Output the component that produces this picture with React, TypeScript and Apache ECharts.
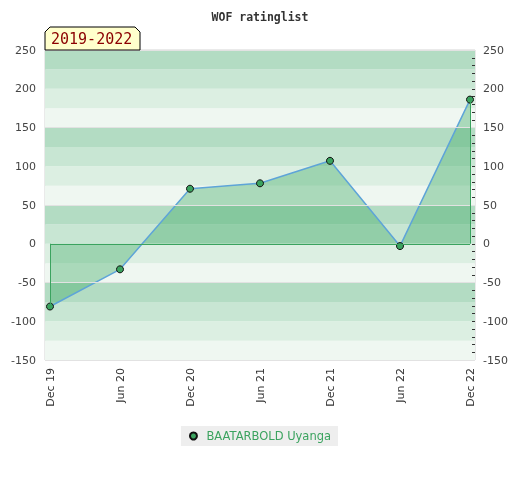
import { useEffect, useRef } from "react";
import * as echarts from "echarts";

const periods = ["Dec 19", "Jun 20", "Dec 20", "Jun 21", "Dec 21", "Jun 22", "Dec 22"];
const ratings = [-81, -33, 71, 78, 107, -3, 186];
const yMin = -150;
const yMax = 250;
const yStep = 50;
const bandStep = 25;
const bandColors = ["#eff7f1", "#dcefe2", "#c8e6d3", "#b3dcc3"];
const gridLineValues = [250, 150, 50, -50, -150];
const seriesName = "BAATARBOLD Uyanga";
const titleText = "WOF ratinglist";
const periodLabel = "2019-2022";

export default function App() {
  const ref = useRef<HTMLDivElement>(null);
  useEffect(() => {
    if (!ref.current) return;
    const chart = echarts.init(ref.current, null, { renderer: "svg" });
    const pad = 5 / 70;
    const last = periods.length - 1;
    const green = "#3ba35f";
    const sans = "DejaVu Sans";
    chart.setOption({
      animation: false,
      title: {
        text: titleText,
        left: "center",
        top: 6,
        textStyle: { fontFamily: "DejaVu Sans Mono", fontWeight: "bold", fontSize: 11.5, color: "#333" },
      },
      legend: {
        data: [seriesName],
        left: "center",
        top: 426,
        backgroundColor: "#eeeeee",
        padding: [4, 7, 4, 8],
        icon: "circle",
        itemWidth: 7,
        itemHeight: 7,
        textStyle: { color: green, fontSize: 11.5, fontFamily: sans, padding: [0, 0, 0, 4.5] },
      },
      grid: {
        left: 45,
        right: 45,
        top: 50,
        bottom: 120,
        show: true,
        borderColor: "#d4d4d4",
        borderWidth: 1,
        backgroundColor: "transparent",
      },
      xAxis: {
        type: "value",
        min: -pad,
        max: last + pad,
        axisLine: { show: false },
        axisTick: { show: false },
        splitLine: { show: false },
        axisLabel: {
          customValues: periods.map((_, i) => i),
          formatter: (v: number) => periods[Math.round(v)] ?? "",
          rotate: 90,
          margin: 8,
          fontSize: 11,
          fontFamily: sans,
          color: "#333",
        },
      },
      yAxis: [
        {
          type: "value",
          position: "left",
          min: yMin,
          max: yMax,
          interval: yStep,
          axisLine: { show: false },
          axisTick: { show: false },
          splitLine: { show: false },
          axisLabel: { margin: 9, fontSize: 11, fontFamily: sans, color: "#444" },
        },
        {
          type: "value",
          position: "right",
          min: yMin,
          max: yMax,
          interval: yStep,
          axisLine: { show: false },
          axisTick: { show: true, inside: true, length: 3, lineStyle: { color: "#333" } },
          minorTick: { show: true, splitNumber: 5, length: 3, lineStyle: { color: "#333" } },
          splitLine: { show: false },
          axisLabel: { margin: 8, fontSize: 11, fontFamily: sans, color: "#444" },
        },
        {
          type: "value",
          position: "left",
          min: yMin,
          max: yMax,
          interval: bandStep,
          axisLine: { show: false },
          axisTick: { show: false },
          axisLabel: { show: false },
          splitLine: { show: false },
          splitArea: { show: true, areaStyle: { color: bandColors } },
        },
      ],
      series: [
        {
          name: "grid-lines",
          type: "line",
          data: [],
          z: 1,
          silent: true,
          markLine: {
            silent: true,
            symbol: "none",
            label: { show: false },
            lineStyle: { color: "#e2e2e2", type: "solid", width: 1 },
            data: gridLineValues.map((v) => ({ yAxis: v })),
          },
        },
        {
          name: seriesName,
          type: "line",
          data: ratings.map((v, i) => [i, v]),
          z: 3,
          symbol: "circle",
          symbolSize: 7,
          lineStyle: { color: "#5ea4d8", width: 1.5 },
          itemStyle: { color: green, borderColor: "#111", borderWidth: 1 },
          areaStyle: { color: "rgba(60,170,100,0.55)" },
          markLine: {
            silent: true,
            symbol: "none",
            label: { show: false },
            lineStyle: { color: green, type: "solid", width: 1 },
            data: [
              [{ coord: [0, 0] }, { coord: [last, 0] }],
              [{ coord: [0, 0] }, { coord: [0, ratings[0]] }],
              [{ coord: [last, 0] }, { coord: [last, ratings[last]] }],
            ],
          },
        },
      ],
      graphic: [
        {
          type: "polygon",
          shape: { points: [[45, 50], [45, 32], [50, 27], [135, 27], [140, 32], [140, 50]] },
          style: { fill: "#ffffcc", stroke: "#000", lineWidth: 1 },
          z: 10,
        },
        {
          type: "text",
          x: 51,
          y: 39,
          style: {
            text: periodLabel,
            fill: "#8b0000",
            fontFamily: "DejaVu Sans Mono",
            fontSize: 15,
            verticalAlign: "middle",
          },
          z: 11,
        },
      ],
    });
    return () => chart.dispose();
  }, []);
  return <div ref={ref} style={{ position: "fixed", left: 0, top: 0, width: 520, height: 480 }} />;
}
